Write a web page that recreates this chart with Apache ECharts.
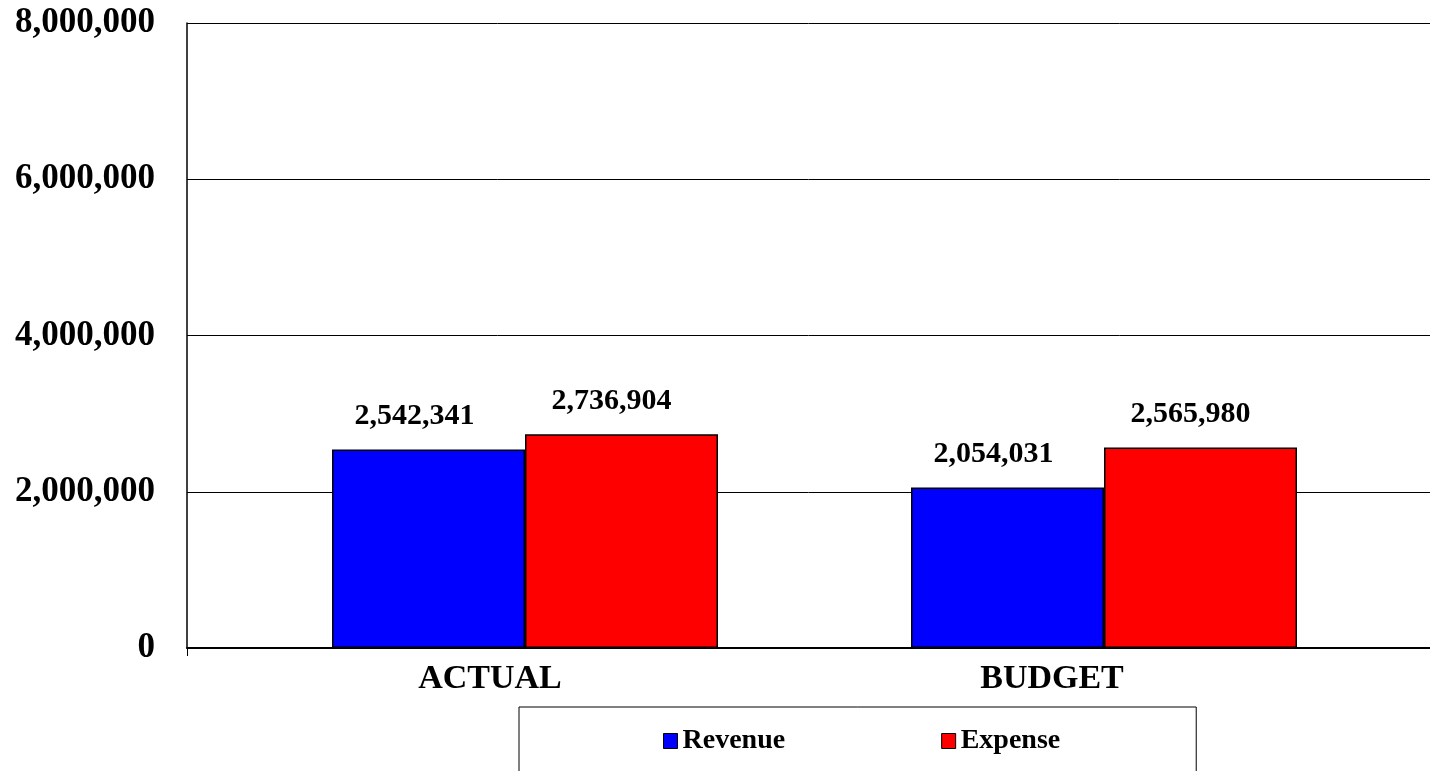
<!DOCTYPE html>
<html>
<head>
<meta charset="utf-8">
<style>
  html, body { margin: 0; padding: 0; background: #ffffff; }
  #chart { width: 1430px; height: 771px; }
</style>
<script src="https://cdn.jsdelivr.net/npm/echarts@6/dist/echarts.min.js"></script>
</head>
<body>
<div id="chart"></div>
<script>
// Revenue vs expense, actual and budget
const categories = ['ACTUAL', 'BUDGET'];
const revenue = [2542341, 2054031];
const expense = [2736904, 2565980];
const yTicks = [0, 2000000, 4000000, 6000000, 8000000];

const serif = '"Liberation Serif", "Times New Roman", serif';
const fmt = v => Number(v).toLocaleString('en-US');

const chart = echarts.init(document.getElementById('chart'));

const yMin = yTicks[0];
const yMax = yTicks[yTicks.length - 1];
const yStep = yTicks[1] - yTicks[0];

chart.setOption({
  animation: false,
  backgroundColor: '#ffffff',
  grid: [
    // frame, value axis and gridlines
    { left: 187, right: -10, top: 23, bottom: 123 },
    // bars
    { left: 235.5, right: 36.5, top: 23, bottom: 123 },
    // category labels
    { left: 209, right: 97, top: 23, bottom: 123 }
  ],
  xAxis: [
    {
      gridIndex: 0, type: 'category', data: [''],
      axisLine: { show: true, lineStyle: { color: '#000', width: 2 } },
      axisTick: { show: true, length: 8, lineStyle: { color: '#000', width: 1 } },
      axisLabel: { show: false }
    },
    {
      gridIndex: 1, type: 'category', data: categories,
      axisLine: { show: false }, axisTick: { show: false }, axisLabel: { show: false }
    },
    {
      gridIndex: 2, type: 'category', data: categories,
      axisLine: { show: false }, axisTick: { show: false },
      axisLabel: {
        show: true, margin: 14, color: '#000',
        fontFamily: serif, fontWeight: 'bold', fontSize: 34
      }
    }
  ],
  yAxis: [
    {
      gridIndex: 0, type: 'value', min: yMin, max: yMax, interval: yStep,
      axisLine: { show: true, lineStyle: { color: '#000', width: 1.5 } },
      axisTick: { show: false },
      splitLine: { show: true, lineStyle: { color: '#000', width: 1 } },
      axisLabel: {
        margin: 32, color: '#000',
        fontFamily: serif, fontWeight: 'bold', fontSize: 35,
        formatter: v => fmt(v)
      }
    },
    {
      gridIndex: 1, type: 'value', min: yMin, max: yMax, interval: yStep,
      show: false
    },
    {
      gridIndex: 2, type: 'value', min: yMin, max: yMax, interval: yStep,
      show: false
    }
  ],
  legend: {
    left: 519, top: 707,
    padding: [20, 136, 40, 144],
    borderColor: '#000', borderWidth: 1,
    itemWidth: 14, itemHeight: 15, itemGap: 156,
    textStyle: { fontFamily: serif, fontWeight: 'bold', fontSize: 28, color: '#000' },
    data: [
      { name: 'Revenue', icon: 'rect', itemStyle: { color: '#0000ff', borderColor: '#000', borderWidth: 1 } },
      { name: 'Expense', icon: 'rect', itemStyle: { color: '#ff0000', borderColor: '#000', borderWidth: 1 } }
    ]
  },
  series: [
    {
      name: 'Revenue', type: 'bar', xAxisIndex: 1, yAxisIndex: 1,
      data: revenue, barWidth: 193, barGap: '0%',
      itemStyle: { color: '#0000ff', borderColor: '#000', borderWidth: 1.5 },
      label: {
        show: true, position: 'top', distance: 18, offset: [-14, 0],
        fontFamily: serif, fontWeight: 'bold', fontSize: 30, color: '#000',
        formatter: p => fmt(p.value)
      }
    },
    {
      name: 'Expense', type: 'bar', xAxisIndex: 1, yAxisIndex: 1,
      data: expense, barWidth: 193, barGap: '0%',
      itemStyle: { color: '#ff0000', borderColor: '#000', borderWidth: 1.5 },
      label: {
        show: true, position: 'top', distance: 18, offset: [-10, 0],
        fontFamily: serif, fontWeight: 'bold', fontSize: 30, color: '#000',
        formatter: p => fmt(p.value)
      }
    }
  ]
});
</script>
</body>
</html>
